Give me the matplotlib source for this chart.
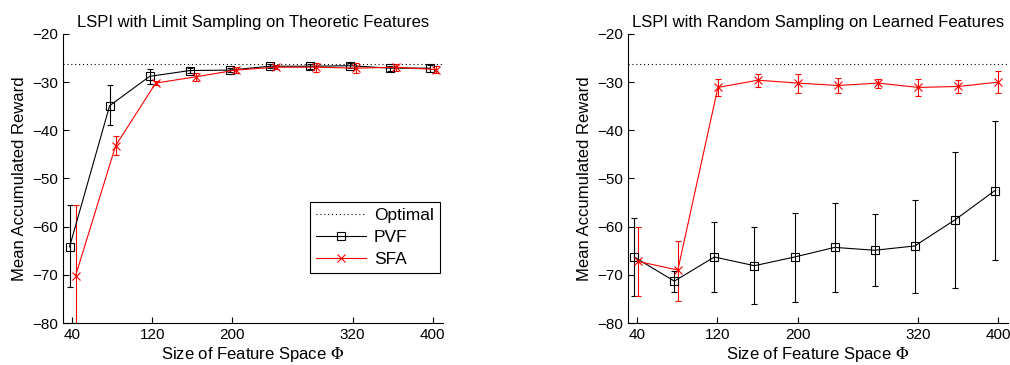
import matplotlib
matplotlib.use("Agg")
import matplotlib.pyplot as plt
from matplotlib.lines import Line2D
import numpy as np

plt.rcParams['font.family'] = ['Liberation Sans', 'DejaVu Sans']
plt.rcParams['mathtext.fontset'] = 'stix'

sizes = [40, 80, 120, 160, 200, 240, 280, 320, 360, 400]
xticks = [40, 120, 200, 320, 400]
optimal = -26.3

# Left panel: Limit Sampling on Theoretic Features
pvf_left = [-64.2, -34.9, -28.8, -27.6, -27.5, -26.7, -26.7, -26.6, -27.1, -27.1]
pvf_left_lo = [-72.6, -39.0, -30.3, -28.1, -28.0, -27.1, -27.2, -27.1, -27.6, -27.8]
pvf_left_hi = [-55.6, -30.7, -27.2, -27.1, -27.0, -26.3, -26.2, -26.1, -26.6, -26.4]
sfa_left = [-70.2, -43.2, -30.2, -28.9, -27.5, -26.9, -26.9, -27.1, -26.9, -27.4]
sfa_left_lo = [-85.0, -45.1, -30.7, -29.7, -28.1, -27.3, -27.8, -28.2, -27.6, -28.2]
sfa_left_hi = [-55.6, -41.2, -29.7, -28.1, -26.9, -26.5, -26.0, -26.0, -26.2, -26.6]

# Right panel: Random Sampling on Learned Features
pvf_right = [-66.3, -71.3, -66.3, -68.1, -66.3, -64.3, -64.9, -64.0, -58.6, -52.5]
pvf_right_lo = [-74.4, -73.5, -73.5, -76.1, -75.6, -73.5, -72.3, -73.7, -72.8, -66.9]
pvf_right_hi = [-58.1, -69.1, -59.1, -60.1, -57.1, -55.0, -57.4, -54.5, -44.5, -38.0]
sfa_right = [-67.2, -69.0, -31.1, -29.6, -30.2, -30.7, -30.2, -31.1, -30.9, -30.0]
sfa_right_lo = [-74.4, -75.5, -32.8, -31.0, -32.3, -32.2, -31.2, -32.8, -32.2, -32.3]
sfa_right_hi = [-60.0, -62.9, -29.4, -28.3, -28.3, -29.2, -29.4, -29.3, -29.5, -27.6]

titles = ["LSPI with Limit Sampling on Theoretic Features",
          "LSPI with Random Sampling on Learned Features"]

fig = plt.figure(figsize=(10.1, 3.65), dpi=100)
ax1 = fig.add_axes([0.0624, 0.115, 0.376, 0.792])
ax2 = fig.add_axes([0.622, 0.115, 0.376, 0.792])

def panel(ax, pvf, plo, phi, sfa, slo, shi, off_p, off_s, title, legend=False):
    x = np.array(sizes, dtype=float)
    pv = np.array(pvf); sv = np.array(sfa)
    ax.plot([min(sizes) - 9, max(sizes) + 9], [optimal, optimal], linestyle=(0, (1, 2.5)),
            color='black', lw=0.8)
    ax.errorbar(x + off_p, pv, yerr=[pv - np.array(plo), np.array(phi) - pv],
                color='black', lw=0.8, elinewidth=0.8, capsize=2.5, marker='s',
                markersize=6, markerfacecolor='none', markeredgecolor='black',
                markeredgewidth=0.8)
    ax.errorbar(x + off_s, sv, yerr=[sv - np.array(slo), np.array(shi) - sv],
                color='red', lw=0.8, elinewidth=0.8, capsize=2.5, marker='x',
                markersize=6, markeredgewidth=0.8)
    ax.set_xlim(31, 410)
    ax.set_ylim(-80, -20)
    ax.set_xticks(xticks)
    ax.set_yticks(np.arange(-80, -19, 10))
    ax.tick_params(direction='in', labelsize=11, length=4)
    ax.spines['top'].set_visible(False)
    ax.spines['right'].set_visible(False)
    ax.set_title(title, fontsize=12, pad=5)
    ax.set_xlabel(r'Size of Feature Space $\Phi$', fontsize=12, labelpad=2)
    ax.set_ylabel('Mean Accumulated Reward', fontsize=12, labelpad=4)
    if legend:
        handles = [
            Line2D([], [], linestyle=(0, (1, 2.5)), color='black', lw=0.8),
            Line2D([], [], color='black', lw=0.8, marker='s', markersize=6,
                   markerfacecolor='none', markeredgewidth=0.8),
            Line2D([], [], color='red', lw=0.8, marker='x', markersize=6,
                   markeredgewidth=0.8),
        ]
        leg = ax.legend(handles, ['Optimal', 'PVF', 'SFA'], loc='lower right',
                        bbox_to_anchor=(0.992, 0.172), borderaxespad=0, fontsize=12.5,
                        fancybox=False, framealpha=1, edgecolor='black',
                        handlelength=2.9, borderpad=0.35, labelspacing=0.4,
                        handletextpad=0.45)
        leg.get_frame().set_linewidth(0.8)

panel(ax1, pvf_left, pvf_left_lo, pvf_left_hi, sfa_left, sfa_left_lo, sfa_left_hi,
      -2.5, 3.5, titles[0], legend=True)
panel(ax2, pvf_right, pvf_right_lo, pvf_right_hi, sfa_right, sfa_right_lo, sfa_right_hi,
      -3.0, 0.5, titles[1])

fig.savefig('out.png', dpi=100)
